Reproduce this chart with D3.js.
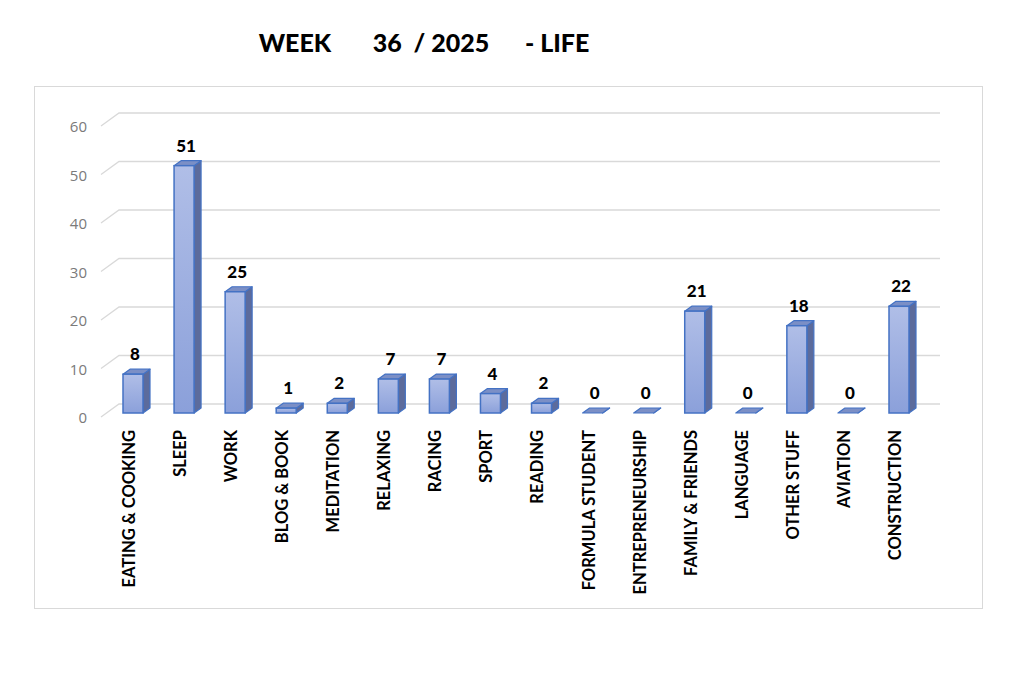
<!DOCTYPE html>
<html><head><meta charset="utf-8">
<script src="https://cdn.jsdelivr.net/npm/d3@7/dist/d3.min.js"></script>
<style>body{margin:0;background:#fff}svg{display:block}</style>
</head><body>
<svg id="c" width="1024" height="683"></svg>
<script>
const categories = ["EATING & COOKING","SLEEP","WORK","BLOG & BOOK","MEDITATION","RELAXING","RACING","SPORT","READING","FORMULA STUDENT","ENTREPRENEURSHIP","FAMILY & FRIENDS","LANGUAGE","OTHER STUFF","AVIATION","CONSTRUCTION"];
const values = [8,51,25,1,2,7,7,4,2,0,0,21,0,18,0,22];
const yTicks = [0,10,20,30,40,50,60];
const title = "WEEK       36  / 2025      - LIFE";

const svg = d3.select("#c");
const defs = svg.append("defs");
const grad = defs.append("linearGradient").attr("id","fg").attr("x1",0).attr("y1",0).attr("x2",0).attr("y2",1);
grad.append("stop").attr("offset","0%").attr("stop-color","#b0bee7");
grad.append("stop").attr("offset","100%").attr("stop-color","#8ba0da");

svg.append("rect").attr("x",34.5).attr("y",86.5).attr("width",948).attr("height",522)
  .attr("fill","#fff").attr("stroke","#d9d9d9").attr("stroke-width",1);

svg.append("text").attr("x",424).attr("y",52).attr("text-anchor","middle")
  .style("white-space","pre").attr("font-family","Lato, 'Open Sans', sans-serif")
  .attr("font-weight","900").attr("font-size",25).attr("fill","#000").text(title);

const x = d3.scalePoint().domain(categories).range([133, 899]);
const y = d3.scaleLinear().domain([0,60]).range([413,122]);
const barW = 20, bdx = 7, bdy = -5;   // bar depth
const wallBackDy = -9, wallFrontDy = 4, wallX0 = 101, wallX1 = 119, gridRight = 940;

// gridlines
const g = svg.append("g");
yTicks.forEach(v => {
  const yb = y(v) + wallBackDy, yf = y(v) + wallFrontDy;
  g.append("path").attr("d",`M${wallX0},${yf}L${wallX1},${yb}L${gridRight},${yb}`)
    .attr("fill","none").attr("stroke","#d9d9d9").attr("stroke-width",1.3);
  g.append("text").attr("x",87).attr("y",y(v)+10).attr("text-anchor","end")
    .attr("font-family","'Open Sans', Lato, sans-serif").attr("font-size",15).attr("fill","#7a7a7a").text(v);
});

// bars
const bars = svg.append("g").selectAll("g").data(categories).join("g");
bars.each(function(c,i){
  const sel = d3.select(this);
  const v = values[i];
  const x0 = x(c) - barW/2, x1 = x0 + barW, yt = y(v), yb = y(0);
  sel.append("path").attr("d",`M${x1},${yb}L${x1+bdx},${yb+bdy}L${x1+bdx},${yt+bdy}L${x1},${yt}Z`)
    .attr("fill","#5c6b9c").attr("stroke","#4472c4").attr("stroke-width",1.2).attr("stroke-linejoin","round");
  sel.append("path").attr("d",`M${x0},${yt}L${x0+bdx},${yt+bdy}L${x1+bdx},${yt+bdy}L${x1},${yt}Z`)
    .attr("fill","#7b8fc6").attr("stroke","#4472c4").attr("stroke-width",1.2).attr("stroke-linejoin","round");
  if (v > 0) {
    sel.append("rect").attr("x",x0).attr("y",yt).attr("width",barW).attr("height",yb-yt)
      .attr("fill","url(#fg)").attr("stroke","#4472c4").attr("stroke-width",1.5);
  }
  sel.append("text").attr("x",x(c)+2).attr("y",yt-14).attr("text-anchor","middle")
    .attr("font-family","Lato, 'Open Sans', sans-serif").attr("font-weight","900")
    .attr("font-size",17).attr("fill","#000").text(v);
  sel.append("text").attr("transform",`translate(${x(c)-4},430) rotate(-90)`)
    .attr("text-anchor","end").attr("dy","0.36em")
    .attr("font-family","Lato, 'Open Sans', sans-serif").attr("font-weight","bold")
    .attr("font-size",16.5).attr("fill","#000").text(c);
});
</script>
</body></html>
